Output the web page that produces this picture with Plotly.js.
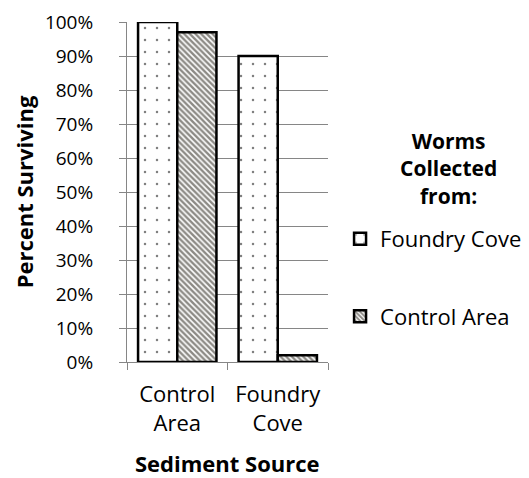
<!DOCTYPE html>
<html>
<head>
<meta charset="utf-8">
<script src="https://cdn.plot.ly/plotly-3.0.1.min.js"></script>
<style>html,body{margin:0;padding:0;background:#fff;}#chart{width:529px;height:478px;}</style>
</head>
<body>
<div id="chart"></div>
<script>
var categories = ["Control<br>Area", "Foundry<br>Cove"];
var seriesNames = ["Foundry Cove", "Control Area"];
var legendTitle = "Worms<br>Collected<br>from:";
var xTitle = "Sediment Source";
var yTitle = "Percent Surviving";
var foundryCoveWorms = [1.00, 0.90];
var controlAreaWorms = [0.97, 0.02];
var yTicks = [0, 0.1, 0.2, 0.3, 0.4, 0.5, 0.6, 0.7, 0.8, 0.9, 1.0];
var yTickLabels = ["0%", "10%", "20%", "30%", "40%", "50%", "60%", "70%", "80%", "90%", "100%"];

var FONT = "'Open Sans', sans-serif";

var traces = [
  {
    type: "bar", name: seriesNames[0], x: categories, y: foundryCoveWorms,
    legendgroup: "a",
    marker: {color: "#ffffff", line: {color: "#000", width: 2.5},
      pattern: {shape: ".", fgcolor: "#000", bgcolor: "#fff", size: 12, solidity: 0.035, fillmode: "overlay"}}
  },
  {
    type: "bar", name: seriesNames[1], x: categories, y: controlAreaWorms,
    legendgroup: "b",
    marker: {color: "#ffffff", line: {color: "#000", width: 2.5},
      pattern: {shape: "\\", fgcolor: "#1a150c", bgcolor: "#fff", size: 4, solidity: 0.6, fillmode: "overlay"}}
  }
];

var layout = {
  width: 529, height: 478,
  margin: {l: 127, r: 201, t: 22, b: 116, autoexpand: false},
  paper_bgcolor: "#fff", plot_bgcolor: "#fff",
  font: {family: FONT, size: 19, color: "#000"},
  barmode: "group", bargap: 0.22, bargroupgap: 0,
  showlegend: true,
  xaxis: {
    type: "category",
    showline: true, linecolor: "#868686", linewidth: 1,
    ticks: "outside", tickson: "boundaries", ticklen: 7, tickcolor: "#868686",
    ticklabelstandoff: 13,
    tickfont: {family: FONT, size: 22}
  },
  yaxis: {
    range: [0, 1.0],
    tickvals: yTicks, ticktext: yTickLabels,
    showgrid: true, gridcolor: "#868686", gridwidth: 1,
    showline: true, linecolor: "#868686", linewidth: 1,
    ticks: "outside", ticklen: 7, tickcolor: "#868686",
    ticklabelstandoff: 22,
    tickfont: {family: FONT, size: 19},
    zeroline: false,
    title: {text: "<b>" + yTitle + "</b>", font: {family: FONT, size: 22}, standoff: 5}
  },
  legend: {
    x: 1.06, xanchor: "left", y: 0.424, yanchor: "top",
    traceorder: "grouped", tracegroupgap: 46,
    font: {family: FONT, size: 22},
    itemwidth: 30
  },
  annotations: [
    {
      xref: "paper", yref: "paper", x: 1.60, y: 0.568, xanchor: "center", yanchor: "middle",
      text: "<b>" + legendTitle + "</b>", showarrow: false, align: "center",
      font: {family: FONT, size: 21, color: "#000"}
    },
    {
      xref: "paper", yref: "paper", x: 0.5, y: -0.297, xanchor: "center", yanchor: "middle",
      text: "<b>" + xTitle + "</b>", showarrow: false, borderpad: 0,
      font: {family: FONT, size: 22, color: "#000"}
    }
  ]
};

Plotly.newPlot("chart", traces, layout, {displayModeBar: false, staticPlot: true});
</script>
</body>
</html>
